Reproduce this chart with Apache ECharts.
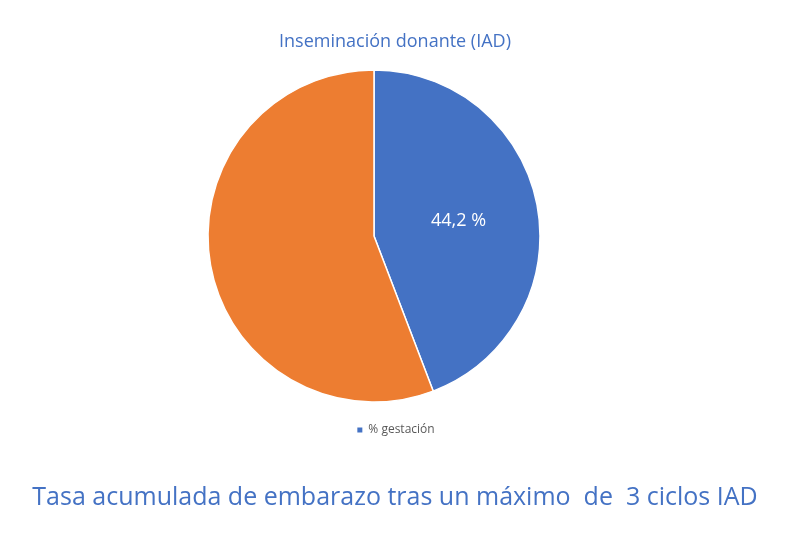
<!DOCTYPE html>
<html><head><meta charset="utf-8">
<script src="https://cdn.jsdelivr.net/npm/echarts@6/dist/echarts.min.js"></script>
<style>html,body{margin:0;padding:0;background:#fff}#c{width:790px;height:540px}</style>
</head><body><div id="c"></div>
<script>
const categories = ['% gestación', 'resto'];
const values = [44.2, 55.8];
const labels = ['44,2 %', ''];
const colors = ['#4472C4', '#ED7D31'];
const chart = echarts.init(document.getElementById('c'));
chart.setOption({
  animation: false,
  textStyle: { fontFamily: 'Open Sans' },
  title: [
    { text: 'Inseminación donante (IAD)', left: 'center', top: 28,
      textStyle: { color: '#4472C4', fontSize: 18, fontWeight: 'normal', fontFamily: 'Open Sans' } },
    { text: 'Tasa acumulada de embarazo tras un máximo  de  3 ciclos IAD', left: 'center', top: 480,
      textStyle: { color: '#4472C4', fontSize: 25, fontWeight: 'normal', fontFamily: 'Open Sans' } }
  ],
  legend: {
    data: [categories[0]], top: 419, left: 'center', itemWidth: 7, itemHeight: 7, icon: 'rect',
    textStyle: { color: '#595959', fontSize: 12 }
  },
  series: [{
    type: 'pie', center: [374, 236], radius: 166, startAngle: 90, clockwise: true,
    label: { show: true, position: 'inside', color: '#fff', fontSize: 18, formatter: p => labels[p.dataIndex] },
    labelLine: { show: false },
    itemStyle: { borderColor: '#fff', borderWidth: 1.5 },
    emphasis: { disabled: true },
    data: categories.map((c, i) => ({ name: c, value: values[i], itemStyle: { color: colors[i] } }))
  }]
});
</script></body></html>
